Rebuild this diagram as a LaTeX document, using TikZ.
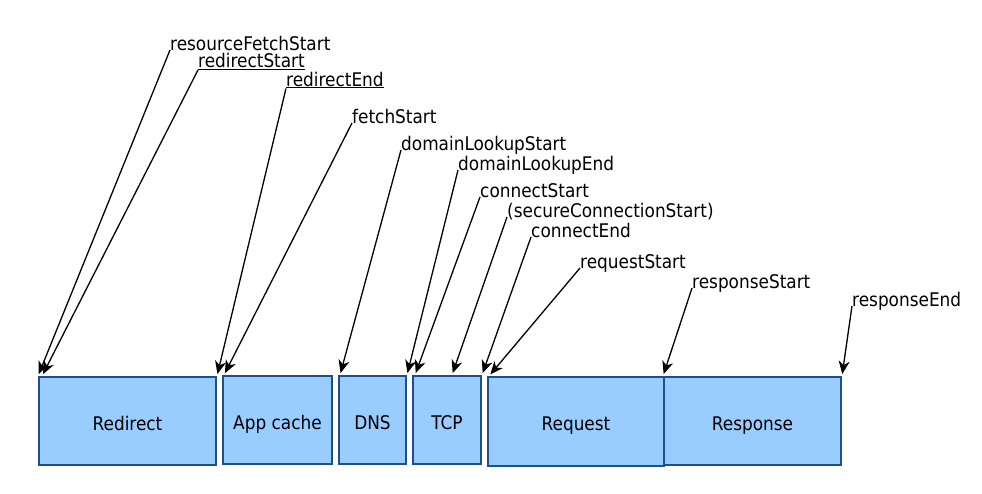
\documentclass[tikz,border=0pt]{standalone}
\usepackage{fontspec}
\setmainfont{DejaVu Sans Condensed}
\usetikzlibrary{arrows.meta, positioning}

\definecolor{boxfill}{HTML}{99CCFF}
\definecolor{boxedge}{HTML}{1F4E8C}

\begin{document}
\begin{tikzpicture}[x=1pt, y=-1pt,
    phase/.style={draw=boxedge, fill=boxfill, line width=2pt, minimum height=88pt, inner sep=0pt, text height=18pt, text depth=0pt, font=\fontsize{18.8}{20}\selectfont},
    event/.style={anchor=base west, inner sep=0pt, font=\fontsize{18.8}{20}\selectfont},
    pointer/.style={-{Stealth[length=13pt, width=11pt, inset=4pt]}, line width=1.3pt, shorten >=2pt}]
    \useasboundingbox (0,0) rectangle (982,493);

    % Phases
    \node[phase, minimum width=177pt] (redirect) at (127.5,421) {Redirect};
    \node[phase, minimum width=109pt] (appcache) at (277.5,420) {App cache};
    \node[phase, minimum width=67pt] (dns) at (372.5,420) {DNS};
    \node[phase, minimum width=68pt] (tcp) at (447,420) {TCP};
    \node[phase, minimum width=176pt, minimum height=89pt] (request) at (576,421.5) {Request};
    \node[phase, minimum width=177pt] (response) at (752.5,421) {Response};

    % Redirect events
    \node[event, text depth=0pt] (fetchbegin) at (170,50) {resourceFetchStart};
    \draw[pointer] (fetchbegin.base west) -- (redirect.north west);
    \node[event] (redirbegin) at (198,67.5) {\underline{redirectStart}};
    \draw[pointer] (redirbegin.south west) -- ([xshift=4pt]redirect.north west);
    \node[event] (redirend) at (286,86) {\underline{redirectEnd}};
    \draw[pointer] (redirend.south west) -- (redirect.north east);

    % Cache and DNS events
    \node[event] (fetchstart) at (352,123) {fetchStart};
    \draw[pointer] (fetchstart.base west) -- ([xshift=2pt]appcache.north west);
    \node[event] (dnsbegin) at (401,150) {domainLookupStart};
    \draw[pointer] (dnsbegin.base west) -- ([xshift=2pt]dns.north west);
    \node[event] (dnsend) at (458,170) {domainLookupEnd};
    \draw[pointer] (dnsend.base west) -- (dns.north east);

    % TCP events
    \node[event] (tcpbegin) at (480,197) {connectStart};
    \draw[pointer] (tcpbegin.base west) -- ([xshift=3pt]tcp.north west);
    \node[event] (secure) at (507,217) {(secureConnectionStart)};
    \draw[pointer] (secure.base west) -- ([xshift=5pt]tcp.north);
    \node[event] (tcpend) at (531,237) {connectEnd};
    \draw[pointer] (tcpend.base west) -- (tcp.north east);

    % Request and response events
    \node[event] (reqbegin) at (580,268) {requestStart};
    \draw[pointer] (reqbegin.base west) -- ([xshift=2pt]request.north west);
    \node[event] (respbegin) at (692,288) {responseStart};
    \draw[pointer] (respbegin.base west) -- (response.north west);
    \node[event] (respend) at (852,306) {responseEnd};
    \draw[pointer] (respend.base west) -- (response.north east);
\end{tikzpicture}
\end{document}
